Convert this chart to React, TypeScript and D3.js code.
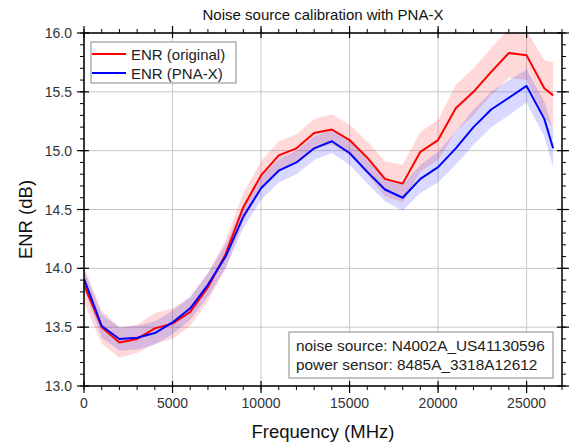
import React from "react";
import * as d3 from "d3";

const freqs = [0, 1000, 2000, 3000, 4000, 5000, 6000, 7000, 8000, 9000, 10000, 11000, 12000, 13000, 14000, 15000, 16000, 17000, 18000, 19000, 20000, 21000, 22000, 23000, 24000, 25000, 26000, 26500];
const enrOriginal = [13.86, 13.5, 13.37, 13.4, 13.49, 13.53, 13.63, 13.84, 14.12, 14.52, 14.79, 14.96, 15.02, 15.15, 15.18, 15.09, 14.94, 14.76, 14.72, 14.99, 15.09, 15.36, 15.5, 15.67, 15.83, 15.81, 15.53, 15.47];
const errOriginal = [0.15, 0.14, 0.13, 0.12, 0.13, 0.13, 0.12, 0.12, 0.12, 0.12, 0.12, 0.12, 0.12, 0.12, 0.13, 0.13, 0.14, 0.15, 0.16, 0.17, 0.17, 0.2, 0.2, 0.2, 0.21, 0.21, 0.24, 0.28];
const enrPnaX = [13.91, 13.51, 13.4, 13.41, 13.45, 13.54, 13.66, 13.86, 14.1, 14.44, 14.68, 14.83, 14.9, 15.02, 15.08, 14.98, 14.82, 14.67, 14.6, 14.76, 14.86, 15.02, 15.2, 15.35, 15.45, 15.55, 15.27, 15.02];
const errPnaX = [0.08, 0.1, 0.1, 0.1, 0.1, 0.1, 0.1, 0.1, 0.1, 0.1, 0.1, 0.1, 0.1, 0.1, 0.1, 0.1, 0.1, 0.1, 0.11, 0.12, 0.13, 0.14, 0.15, 0.15, 0.15, 0.14, 0.15, 0.16];

const xTicks = [0, 5000, 10000, 15000, 20000, 25000];
const yTicks = [13.0, 13.5, 14.0, 14.5, 15.0, 15.5, 16.0];
const seriesNames = ["ENR (original)", "ENR (PNA-X)"];
const annotation = ["noise source: N4002A_US41130596", "power sensor: 8485A_3318A12612"];
const title = "Noise source calibration with PNA-X";
const xLabel = "Frequency (MHz)";
const yLabel = "ENR (dB)";

const W = 570, H = 448;
const L = 84, R = 562, T = 33, B = 386;
const FONT = "'Liberation Sans', Arial, sans-serif";

export default function App() {
  const x = d3.scaleLinear().domain([0, 27000]).range([L, R]);
  const y = d3.scaleLinear().domain([13, 16]).range([B, T]);

  const series = [
    { v: enrOriginal, e: errOriginal, color: "#ff0000", fill: "rgba(255,0,0,0.15)" },
    { v: enrPnaX, e: errPnaX, color: "#0000ff", fill: "rgba(0,0,255,0.15)" },
  ];

  const line = (vals: number[]) =>
    d3.line<number>().x((_, i) => x(freqs[i])).y((d) => y(d))(vals) || "";
  const area = (vals: number[], errs: number[]) =>
    d3
      .area<number>()
      .x((_, i) => x(freqs[i]))
      .y0((d, i) => y(d - errs[i]))
      .y1((d, i) => y(d + errs[i]))(vals) || "";

  const xMinor = d3.range(0, 27001, 1000);
  const yMinor = d3.range(130, 161, 1).map((d) => d / 10);

  return (
    <svg width={W} height={H} style={{ display: "block", position: "absolute", left: 0, top: 0 }}>
      <defs>
        <clipPath id="plotclip">
          <rect x={L} y={T} width={R - L} height={B - T} />
        </clipPath>
      </defs>
      <rect x={0} y={0} width={W} height={H} fill="#fff" />
      {xTicks.map((t) => (
        <line key={"gx" + t} x1={x(t)} x2={x(t)} y1={T} y2={B} stroke="#c8c8c8" strokeWidth={1} />
      ))}
      {yTicks.map((t) => (
        <line key={"gy" + t} x1={L} x2={R} y1={y(t)} y2={y(t)} stroke="#c8c8c8" strokeWidth={1} />
      ))}
      <g clipPath="url(#plotclip)">
        {series.map((s, i) => (
          <path key={"a" + i} d={area(s.v, s.e)} fill={s.fill} stroke="none" />
        ))}
        {series.map((s, i) => (
          <path key={"l" + i} d={line(s.v)} fill="none" stroke={s.color} strokeWidth={2} strokeLinejoin="round" />
        ))}
      </g>
      <rect x={L} y={T} width={R - L} height={B - T} fill="none" stroke="#000" strokeWidth={1.5} />
      {xMinor.map((t) => (
        <g key={"xm" + t}>
          <line x1={x(t)} x2={x(t)} y1={B} y2={B + 4} stroke="#000" strokeWidth={1} />
          <line x1={x(t)} x2={x(t)} y1={T} y2={T - 4} stroke="#000" strokeWidth={1} />
        </g>
      ))}
      {xTicks.map((t) => (
        <g key={"xt" + t}>
          <line x1={x(t)} x2={x(t)} y1={B - 5} y2={B + 7} stroke="#000" strokeWidth={1.2} />
          <line x1={x(t)} x2={x(t)} y1={T + 5} y2={T - 7} stroke="#000" strokeWidth={1.2} />
          <text x={x(t)} y={408} textAnchor="middle" fontFamily={FONT} fontSize={14} fill="#333">
            {t}
          </text>
        </g>
      ))}
      {yMinor.map((t) => (
        <g key={"ym" + t}>
          <line x1={L} x2={L - 4} y1={y(t)} y2={y(t)} stroke="#000" strokeWidth={1} />
          <line x1={R} x2={R + 4} y1={y(t)} y2={y(t)} stroke="#000" strokeWidth={1} />
        </g>
      ))}
      {yTicks.map((t) => (
        <g key={"yt" + t}>
          <line x1={L - 7} x2={L + 5} y1={y(t)} y2={y(t)} stroke="#000" strokeWidth={1.2} />
          <line x1={R + 7} x2={R - 5} y1={y(t)} y2={y(t)} stroke="#000" strokeWidth={1.2} />
          <text x={L - 12} y={y(t) + 5} textAnchor="end" fontFamily={FONT} fontSize={14} fill="#333">
            {t.toFixed(1)}
          </text>
        </g>
      ))}
      <text x={(L + R) / 2} y={20} textAnchor="middle" fontFamily={FONT} fontSize={15} fill="#111">
        {title}
      </text>
      <text x={(L + R) / 2} y={438} textAnchor="middle" fontFamily={FONT} fontSize={18.5} fill="#111">
        {xLabel}
      </text>
      <text
        transform={`translate(32, ${(T + B) / 2 + 10}) rotate(-90)`}
        textAnchor="middle"
        fontFamily={FONT}
        fontSize={18.5}
        fill="#111"
      >
        {yLabel}
      </text>
      <rect x={91} y={42} width={145} height={41} fill="#fff" stroke="#888" strokeWidth={1} />
      {series.map((s, i) => (
        <g key={"lg" + i}>
          <line x1={92} x2={126} y1={54 + i * 19} y2={54 + i * 19} stroke={s.color} strokeWidth={2} />
          <text x={131} y={59.5 + i * 19.5} fontFamily={FONT} fontSize={15} fill="#222">
            {seriesNames[i]}
          </text>
        </g>
      ))}
      <rect x={289} y={332} width={264} height={46} fill="#fff" stroke="#888" strokeWidth={1} />
      {annotation.map((a, i) => (
        <text key={"an" + i} x={296} y={351} dy={i * 18.5} fontFamily={FONT} fontSize={15.4} fill="#222">
          {a}
        </text>
      ))}
    </svg>
  );
}
